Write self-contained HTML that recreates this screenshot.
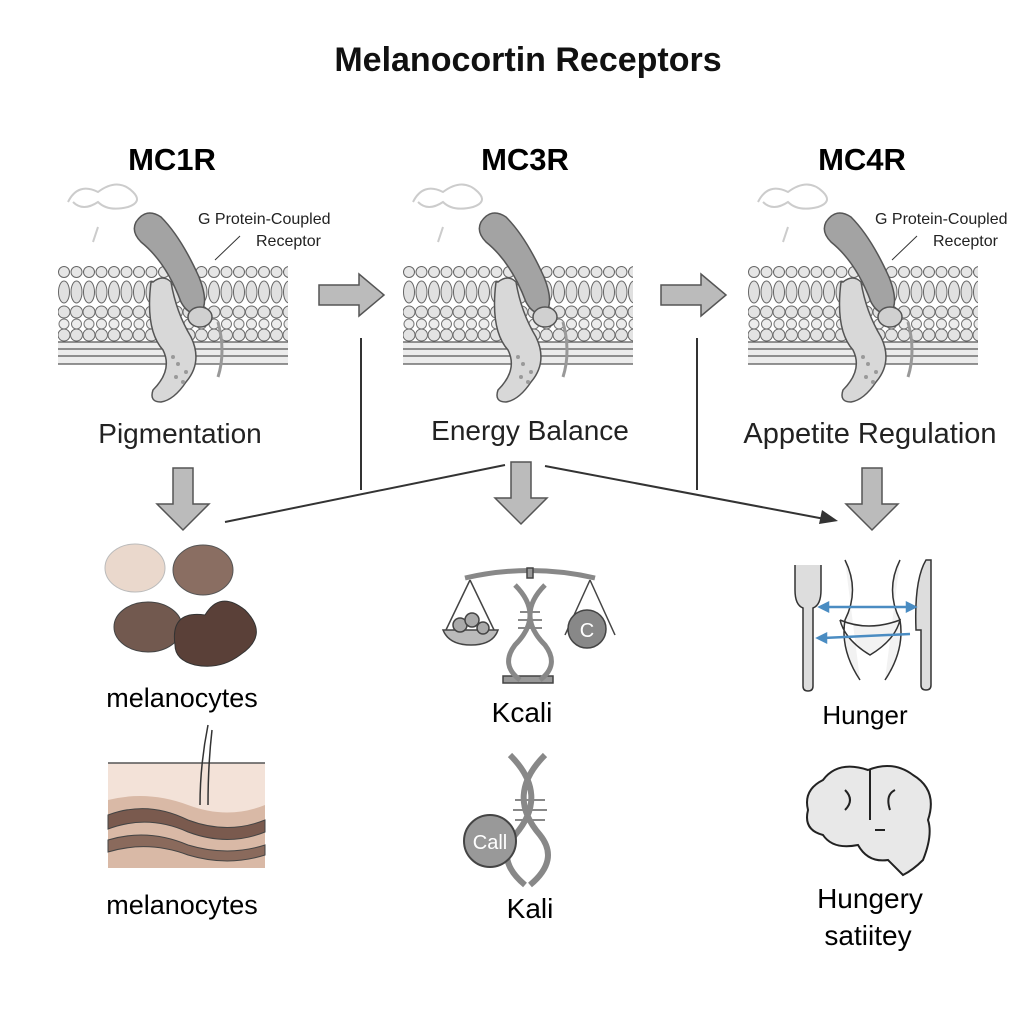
<!DOCTYPE html>
<html><head><style>
body{margin:0;background:#fff;}
svg{display:block;font-family:"Liberation Sans",sans-serif;}
</style></head><body>
<svg width="1024" height="1024" viewBox="0 0 1024 1024" xmlns="http://www.w3.org/2000/svg">
<defs>
<pattern id="lip" x="0" y="0" width="12.5" height="100" patternUnits="userSpaceOnUse">
<circle cx="6" cy="10" r="5.5" fill="#e6e6e6" stroke="#666" stroke-width="1"/>
<ellipse cx="6" cy="30" rx="5.5" ry="11" fill="#e0e0e0" stroke="#666" stroke-width="1"/>
<circle cx="6" cy="50" r="6" fill="#e3e3e3" stroke="#666" stroke-width="1"/>
<circle cx="6" cy="62" r="5" fill="#ececec" stroke="#777" stroke-width="1"/>
<circle cx="6" cy="73" r="6" fill="#e3e3e3" stroke="#666" stroke-width="1"/>
</pattern>
<g id="mem">
<path d="M10,-60 q10,-20 30,-10 q20,-15 35,0 q10,10 -5,15 q-20,5 -30,-5 q-15,10 -25,0 M40,-35 l-5,15" fill="none" stroke="#ccc" stroke-width="2"/>
<rect x="0" y="0" width="230" height="80" fill="url(#lip)"/>
<rect x="0" y="80" width="230" height="22" fill="#ececec"/>
<g stroke="#555" stroke-width="1.3"><line x1="0" y1="80" x2="230" y2="80"/><line x1="0" y1="87" x2="230" y2="87"/><line x1="0" y1="94" x2="230" y2="94"/><line x1="0" y1="102" x2="230" y2="102"/></g>
<path d="M160,60 q8,30 0,55" fill="none" stroke="#999" stroke-width="3"/>
<path d="M95,20 q10,-8 18,0 q5,30 20,55 q12,25 -5,45 q-12,18 -25,20 q-12,0 -8,-12 q20,-20 10,-40 q-18,-20 -12,-68z" fill="#d8d8d8" stroke="#555" stroke-width="1.5"/>
<path d="M78,-40 q10,-15 25,-5 q20,20 38,60 q10,25 2,35 q-12,5 -20,-10 q-15,-40 -40,-60 q-10,-10 -5,-20z" fill="#a3a3a3" stroke="#555" stroke-width="1.5"/>
<ellipse cx="142" cy="55" rx="12" ry="10" fill="#d0d0d0" stroke="#555" stroke-width="1.5"/>
<g fill="#999"><circle cx="115" cy="95" r="2"/><circle cx="120" cy="102" r="2"/><circle cx="128" cy="110" r="2"/><circle cx="118" cy="115" r="2"/><circle cx="125" cy="120" r="2"/></g>
</g>
<g id="barr"><path d="M0,-10 h40 v-11 l25,21 l-25,21 v-11 h-40z" fill="#bbb" stroke="#555" stroke-width="1.5"/></g>
<g id="darr"><path d="M-10,0 h20 v36 h16 l-26,26 l-26,-26 h16z" fill="#bbb" stroke="#555" stroke-width="1.5"/></g>
</defs>

<text x="528" y="71" text-anchor="middle" font-size="34" font-weight="bold" fill="#111">Melanocortin Receptors</text>
<text x="172" y="170" text-anchor="middle" font-size="31" font-weight="bold">MC1R</text>
<text x="525" y="170" text-anchor="middle" font-size="31" font-weight="bold">MC3R</text>
<text x="862" y="170" text-anchor="middle" font-size="31" font-weight="bold">MC4R</text>

<use href="#mem" x="58" y="262"/>
<use href="#mem" x="403" y="262"/>
<use href="#mem" x="748" y="262"/>

<g font-size="16" fill="#222">
<text x="198" y="224">G Protein-Coupled</text><text x="256" y="246">Receptor</text>
<text x="875" y="224">G Protein-Coupled</text><text x="933" y="246">Receptor</text>
</g>
<line x1="240" y1="236" x2="215" y2="260" stroke="#333" stroke-width="1"/>
<line x1="917" y1="236" x2="892" y2="260" stroke="#333" stroke-width="1"/>

<use href="#barr" x="319" y="295"/>
<use href="#barr" x="661" y="295"/>

<g stroke="#333" stroke-width="2" fill="none">
<line x1="361" y1="338" x2="361" y2="490"/>
<line x1="697" y1="338" x2="697" y2="490"/>
<line x1="225" y1="522" x2="505" y2="465"/>
<line x1="545" y1="466" x2="830" y2="520"/>
</g>
<path d="M838,521 l-16,-11 l-3,14z" fill="#333"/>

<g fill="#222" text-anchor="middle">
<text x="180" y="443" font-size="28">Pigmentation</text>
<text x="530" y="440" font-size="28">Energy Balance</text>
<text x="870" y="443" font-size="29">Appetite Regulation</text>
</g>

<use href="#darr" x="183" y="468"/>
<use href="#darr" x="521" y="462"/>
<use href="#darr" x="872" y="468"/>

<ellipse cx="135" cy="568" rx="30" ry="24" fill="#ead8cc" stroke="#bbb"/>
<ellipse cx="203" cy="570" rx="30" ry="25" fill="#8a6e62" stroke="#555"/>
<ellipse cx="148" cy="627" rx="34" ry="25" fill="#72594f" stroke="#444"/>
<path d="M175,645 q-5,-35 30,-30 q15,-25 40,-5 q25,25 -5,45 q-20,15 -45,10 q-20,-5 -20,-20z" fill="#5a4038" stroke="#333"/>
<text x="182" y="707" text-anchor="middle" font-size="27">melanocytes</text>

<rect x="108" y="763" width="157" height="100" fill="#f3e2d8"/>
<path d="M108,800 q40,-10 80,5 q40,15 77,0 v63 h-157z" fill="#d9b9a6"/>
<path d="M108,815 q40,-15 80,5 q40,15 77,0 v12 q-37,15 -77,0 q-40,-18 -80,-3z" fill="#7a5a4e" stroke="#444"/>
<path d="M108,840 q40,-12 80,5 q40,12 77,0 v10 q-37,12 -77,0 q-40,-15 -80,-3z" fill="#8a6a5c" stroke="#444"/>
<line x1="108" y1="763" x2="265" y2="763" stroke="#555" stroke-width="1.5"/>
<path d="M200,805 q0,-40 8,-80 M208,805 q0,-40 4,-75" fill="none" stroke="#333" stroke-width="1.5"/>
<text x="182" y="914" text-anchor="middle" font-size="27">melanocytes</text>

<g stroke="#444" stroke-width="1.5">
<path d="M465,578 q65,-15 130,0" fill="none" stroke-width="5" stroke="#888"/>
<line x1="470" y1="580" x2="445" y2="632"/><line x1="470" y1="580" x2="495" y2="632"/>
<line x1="590" y1="580" x2="565" y2="635"/><line x1="590" y1="580" x2="615" y2="635"/>
<path d="M443,630 h55 q-5,15 -27,15 q-22,0 -28,-15z" fill="#bbb"/>
<circle cx="460" cy="625" r="7" fill="#aaa"/><circle cx="472" cy="620" r="7" fill="#aaa"/><circle cx="483" cy="628" r="6" fill="#aaa"/>
<circle cx="587" cy="629" r="19" fill="#888"/>
<rect x="527" y="568" width="6" height="10" fill="#999"/>
<path d="M503,683 h50 v-7 h-50z" fill="#999"/>
<path d="M515,585 q30,30 0,60 q-15,20 5,35 M545,585 q-30,30 0,60 q15,20 -5,35" fill="none" stroke="#888" stroke-width="5"/>
<g stroke="#888" stroke-width="2"><line x1="520" y1="612" x2="540" y2="612"/><line x1="518" y1="620" x2="542" y2="620"/><line x1="518" y1="628" x2="542" y2="628"/></g>
</g>
<text x="587" y="637" text-anchor="middle" font-size="20" fill="#fff">C</text>
<text x="522" y="722" text-anchor="middle" font-size="28">Kcali</text>

<g>
<path d="M510,755 q40,40 5,80 q-20,25 10,50 M545,755 q-40,40 -5,80 q20,25 -10,50" fill="none" stroke="#888" stroke-width="6"/>
<g stroke="#888" stroke-width="2"><line x1="515" y1="800" x2="545" y2="800"/><line x1="513" y1="810" x2="547" y2="810"/><line x1="515" y1="820" x2="545" y2="820"/></g>
<circle cx="490" cy="841" r="26" fill="#999" stroke="#444" stroke-width="2"/>
<text x="490" y="849" text-anchor="middle" font-size="20" fill="#fff">Call</text>
</g>
<text x="530" y="918" text-anchor="middle" font-size="28">Kali</text>

<g stroke="#333" stroke-width="1.5">
<path d="M795,565 v25 q0,15 8,18 v78 q0,5 5,5 q5,0 5,-5 v-78 q8,-3 8,-18 v-25" fill="#ddd"/>
<path d="M926,560 q-12,20 -10,70 h5 v55 q0,5 5,5 q5,0 5,-5 v-125z" fill="#ddd"/>
<path d="M845,560 q15,30 0,60 q-5,30 15,60 M900,560 q-15,30 0,60 q5,30 -15,60 M840,620 q28,12 60,0 q-5,20 -30,35 q-25,-15 -30,-35" fill="#f2f2f2"/>
</g>
<g stroke="#4a8cc2" stroke-width="2.5" fill="#4a8cc2"><line x1="825" y1="607" x2="910" y2="607"/><line x1="823" y1="638" x2="910" y2="634"/><path d="M820,607 l8,-4 v8z M915,607 l-8,-4 v8z M818,638 l8,-4 v8z"/></g>
<text x="865" y="724" text-anchor="middle" font-size="26">Hunger</text>

<g stroke="#222" stroke-width="2" fill="#e8e8e8">
<path d="M868,770 q-30,-10 -45,10 q-20,10 -15,30 q-5,20 15,25 q10,15 35,10 q10,18 30,15 q10,10 15,15 q10,-5 20,-15 q10,-25 5,-40 q10,-30 -15,-45 q-20,-15 -45,-5z"/>
<path d="M870,770 v50 M845,790 q10,10 0,20 M895,790 q-10,5 -5,20 M875,830 h10" fill="none"/>
</g>
<text x="870" y="908" text-anchor="middle" font-size="28">Hungery</text>
<text x="868" y="945" text-anchor="middle" font-size="28">satiitey</text>
</svg>
</body></html>
